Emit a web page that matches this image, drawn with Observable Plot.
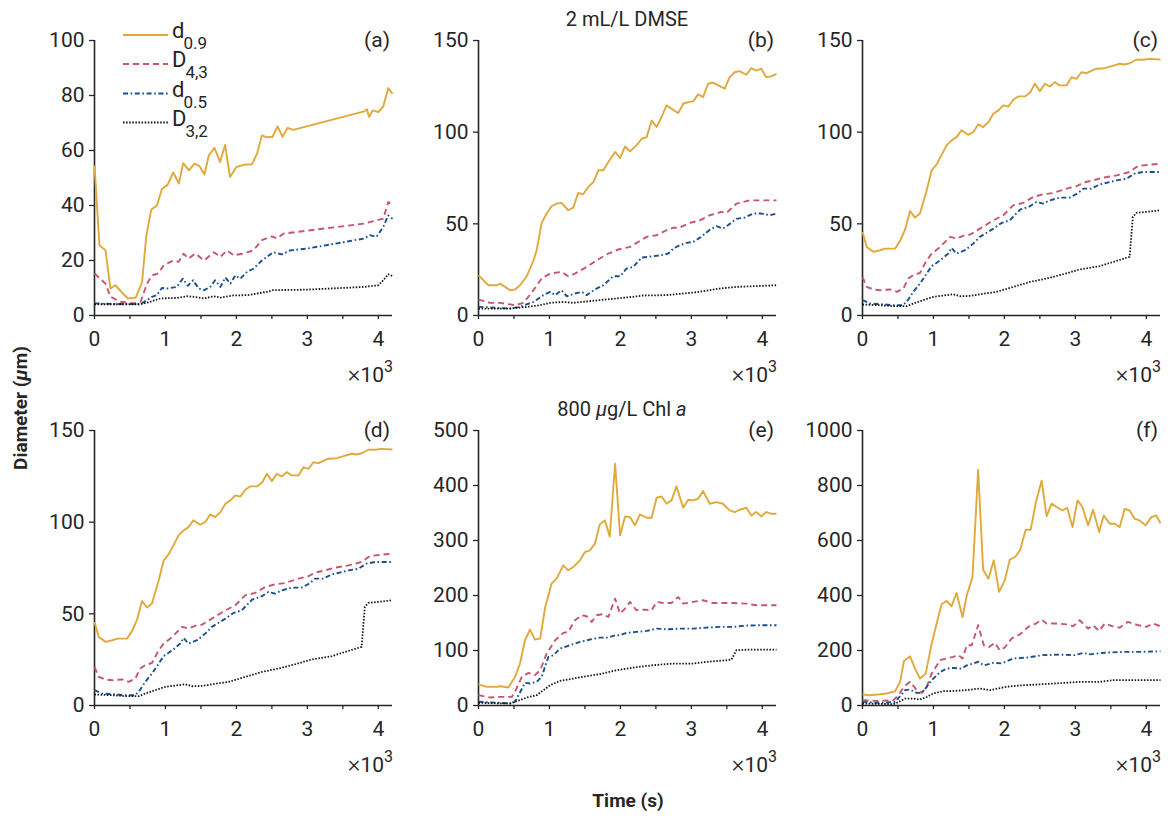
<!DOCTYPE html>
<html><head><meta charset="utf-8">
<script src="https://cdn.jsdelivr.net/npm/d3@7"></script>
<script src="https://cdn.jsdelivr.net/npm/@observablehq/plot@0.6"></script>
<style>
html,body{margin:0;padding:0;background:#fff;overflow:hidden}
#root{position:relative;width:1168px;height:820px;font-family:Roboto,sans-serif}
#overlay{position:absolute;left:0;top:0;pointer-events:none}
</style></head><body><div id="root"></div>
<script>
// ---------- data: [time (s), diameter (µm)] ----------
const a_d09 = [[0,54.6],[70,25.5],[155,23.7],[225,9.8],[295,11],[400,8],[470,6.2],[580,6.5],[670,12],[730,29],[800,38.5],[880,40],[950,46],[1030,47.5],[1110,52],[1190,48],[1250,55.4],[1330,52.8],[1410,55.2],[1480,54.3],[1550,51.3],[1610,58.2],[1690,61],[1770,55.8],[1840,62],[1910,50.4],[2000,54],[2100,54.8],[2220,55],[2290,58.8],[2360,65.5],[2430,64.8],[2510,65],[2580,68.8],[2650,65],[2720,68.2],[2800,67.5],[3800,74.2],[3840,75],[3870,72.2],[3920,74.6],[4000,74],[4070,76],[4140,82.7],[4200,80.6]];
const a_D43 = [[0,15.3],[155,11.6],[225,6.8],[370,5],[550,4.4],[650,5],[740,11.6],[810,14.6],[900,15.3],[975,18.3],[1115,20],[1185,19.5],[1255,22.5],[1325,20.7],[1420,22.5],[1545,20],[1680,23],[1775,21.3],[1865,23.7],[1960,21.9],[2100,22.5],[2240,23.7],[2360,27.4],[2500,28.8],[2570,28],[2665,29.8],[3800,33.4],[3975,34.6],[4070,35.2],[4140,41.3],[4200,40]];
const a_d05 = [[0,4.4],[300,4.2],[645,4.1],[740,5.6],[810,6.8],[880,7.4],[950,10],[1020,9.8],[1160,10.4],[1245,13.4],[1315,10.8],[1390,12.8],[1470,9.8],[1545,9.2],[1630,10.4],[1700,12.8],[1775,10.4],[1845,13.8],[1915,11.6],[1985,14.6],[2055,13.4],[2150,15.9],[2240,17],[2360,20],[2430,21.3],[2520,23],[2640,22.2],[2760,23.7],[2990,24.3],[3800,28],[3880,29.2],[3975,28.6],[4070,32.2],[4140,36.4],[4200,35.2]];
const a_D32 = [[0,4.1],[645,4.1],[790,5],[930,6.2],[1160,6.4],[1305,7],[1400,6.8],[1540,6.2],[1680,7],[1775,6.5],[1960,7.3],[2150,7.4],[2430,8.6],[2520,9.2],[2990,9.4],[3800,10.4],[4000,11],[4070,12.8],[4140,15],[4200,14.3]];

const b_d09 = [[0,22],[140,16.5],[260,16.5],[305,17.4],[445,13.8],[515,14.2],[585,16.5],[680,21.4],[775,30],[820,35.6],[890,50.5],[960,55.6],[1030,59.6],[1100,61],[1170,61.4],[1265,57.4],[1335,58.8],[1405,66.8],[1475,66.1],[1545,70],[1620,72.8],[1690,79.2],[1760,79.2],[1830,83.7],[1925,89.2],[1995,85.9],[2065,92.2],[2135,89.5],[2225,92.8],[2300,96.4],[2370,97.3],[2440,106.4],[2510,102.8],[2580,108.2],[2650,114.6],[2720,112.8],[2815,110.4],[2885,115.5],[2955,116.4],[3025,116.8],[3095,120.6],[3165,119.1],[3235,126.4],[3305,127],[3470,123.7],[3540,130],[3610,132.7],[3680,133.3],[3775,131.3],[3845,134.9],[3915,133.6],[3985,134.6],[4055,130],[4125,130.4],[4200,131.8]];
const b_D43 = [[0,8.7],[165,6.9],[305,6.9],[515,5.6],[635,6.9],[775,13.8],[890,20.2],[1010,22.9],[1170,23.8],[1265,21.4],[1360,22.9],[1525,26.5],[1665,30.1],[1830,33.8],[1970,36],[2135,37.4],[2370,42.9],[2510,43.8],[2650,46.5],[2745,47.9],[2835,47.9],[2980,50.5],[3120,51.9],[3260,54.7],[3425,56.5],[3495,55.9],[3635,61],[3820,62.8],[3960,62.8],[4200,62.8]];
const b_d05 = [[0,4.7],[165,4.4],[445,3.8],[585,4.7],[775,7.4],[915,11.1],[1010,12.9],[1080,11.1],[1170,13.8],[1245,10.5],[1360,12],[1455,12.9],[1525,11.1],[1640,14.2],[1760,16.5],[1900,21.4],[1995,21.4],[2085,25.6],[2180,26.5],[2300,31.6],[2460,32.3],[2580,32.9],[2675,33.8],[2745,36.5],[2835,38.3],[2930,39.6],[3025,40.1],[3140,42.9],[3260,46.8],[3355,48.7],[3445,47.4],[3515,49.2],[3635,52.7],[3750,53.4],[3870,55.6],[3985,55.6],[4105,54.7],[4200,55.6]];
const b_D32 = [[0,3.8],[445,3.8],[680,4.7],[870,5.6],[1010,6.9],[1195,7.4],[1335,6.9],[1710,8.4],[2180,10.2],[2320,10.9],[2650,11.1],[3120,12.9],[3400,14.7],[3635,15.6],[4200,16.5]];

const c_d09 = [[0,45.6],[60,37.4],[155,34.7],[250,35.6],[320,36.5],[390,36.5],[460,36.5],[530,40.7],[600,46.8],[670,57],[740,53.4],[810,55.6],[905,68.3],[975,79.2],[1045,82.4],[1185,92.8],[1255,95.5],[1325,97.3],[1395,101],[1490,98.6],[1560,100],[1630,104.2],[1700,102.8],[1775,105.5],[1845,110],[1915,111.9],[1985,114.6],[2055,114],[2125,117.7],[2195,119.5],[2290,119.5],[2365,121.8],[2430,126.4],[2500,122.4],[2570,126.4],[2640,124.9],[2710,127.3],[2780,125.5],[2875,125.5],[2945,130],[3015,129.1],[3085,132.7],[3155,132.2],[3295,134.6],[3415,134.9],[3510,136],[3625,137.3],[3695,136.9],[3765,137.6],[3860,139.5],[3955,139.5],[4045,140],[4200,139.6]];
const c_D43 = [[0,21],[60,15.6],[155,14.2],[250,13.8],[390,14.2],[485,12.9],[575,14.7],[645,20.2],[715,22],[810,23.2],[905,30.1],[975,33.8],[1095,37.4],[1235,42.9],[1325,42],[1445,43.8],[1515,44.1],[1655,47.4],[1845,51.9],[1985,54.7],[2125,60.1],[2265,61.4],[2405,64.6],[2545,66.1],[2685,66.8],[2875,69.2],[3015,70.5],[3110,72.5],[3250,73.7],[3390,75.2],[3580,76.4],[3765,78.3],[3860,81],[3955,81.9],[4200,82.8]];
const c_d05 = [[0,8.4],[110,6.5],[250,6.2],[435,5.6],[575,5.6],[645,8.7],[715,12.9],[810,17.4],[905,22.9],[975,26.9],[1095,30.1],[1210,33.8],[1255,36.9],[1325,33.8],[1445,35.6],[1560,39.2],[1655,42.9],[1845,47.4],[1960,50.5],[2075,51.9],[2220,57.7],[2360,59.6],[2450,61.9],[2545,61],[2640,62.8],[2780,64.3],[2920,64.3],[3040,66.8],[3110,69.2],[3225,69.2],[3345,71.5],[3485,72.8],[3580,73.7],[3720,74.6],[3835,77.4],[3955,78.3],[4200,78.3]];
const c_D32 = [[0,6],[250,5.6],[435,5.1],[625,5.1],[715,6.5],[860,8.4],[1000,10.2],[1185,11.1],[1280,11.6],[1375,10.5],[1515,10.7],[1655,11.6],[1890,12.9],[2125,15.6],[2360,18.3],[2595,20.2],[2830,22.5],[3060,25.1],[3345,26.9],[3530,29.2],[3765,32],[3810,53.8],[3860,56],[4000,56.5],[4200,57.4]];

// panel (d) repeats the curves of panel (c)
const d_d09 = c_d09, d_D43 = c_D43, d_d05 = c_d05, d_D32 = c_D32;

const e_d09 = [[0,38.7],[115,33.9],[260,33.9],[305,35.1],[420,32.7],[515,52],[585,76.3],[655,118.6],[725,138],[795,119.9],[870,121.7],[940,179.2],[1030,221.5],[1100,230.6],[1195,254.8],[1265,245.8],[1335,251.8],[1430,263.9],[1500,279],[1570,282],[1640,294.2],[1710,329.3],[1780,336.6],[1850,307.5],[1925,439.5],[1995,309.3],[2065,343.8],[2135,342.6],[2205,327.5],[2275,347.5],[2370,341.4],[2440,341.4],[2510,377.7],[2580,380.1],[2650,366.8],[2720,372.9],[2790,398.3],[2885,359.6],[2955,374.1],[3025,372.9],[3095,375.9],[3165,389.8],[3260,366.8],[3355,369.9],[3445,366.8],[3540,354.7],[3610,351.7],[3680,355.9],[3775,359.6],[3845,345.6],[3915,351.7],[3985,343.8],[4055,351.7],[4125,348.7],[4200,348.7]];
const e_D43 = [[0,18.8],[165,14.5],[305,15.7],[470,15.7],[515,24.8],[610,52],[705,59.3],[795,55.1],[870,64.2],[960,94.4],[1080,118.6],[1195,132],[1265,133.8],[1360,155],[1455,164],[1525,162.2],[1595,151.9],[1665,164],[1735,165.9],[1830,161],[1925,194.3],[1995,167],[2065,176.1],[2135,188.3],[2225,173.1],[2345,174.3],[2440,173.1],[2510,188.3],[2605,186.4],[2720,186.4],[2815,197.3],[2885,185.2],[3025,188.3],[3165,191.3],[3305,186.4],[3445,186.4],[3585,186.4],[3775,185.2],[3915,182.2],[4200,182.2]];
const e_d05 = [[0,6.7],[305,4.8],[490,3.6],[540,12.7],[655,41.2],[725,40],[820,43],[890,52],[985,88.4],[1055,91.4],[1150,103.5],[1290,109.6],[1430,115.6],[1570,119.9],[1710,123.5],[1830,123.5],[1925,127.7],[1995,127.7],[2085,132],[2225,133.8],[2370,135.6],[2510,139.8],[2650,138.6],[2835,139.8],[3025,139.8],[3210,141.6],[3400,142.9],[3585,142.9],[3775,145.3],[3960,145.9],[4200,145.9]];
const e_D32 = [[0,4.8],[445,3.6],[540,7.9],[680,14.5],[820,18.8],[915,27.8],[1010,36.9],[1150,44.8],[1335,49],[1525,53.3],[1710,56.9],[1900,63],[2180,69],[2460,73.2],[2745,76.3],[3025,76.3],[3210,79.3],[3495,82.3],[3565,83.5],[3635,100.5],[3820,101.7],[4200,101.7]];

const f_d09 = [[0,41],[85,37.5],[250,41],[340,43.6],[460,52],[530,86],[585,162],[670,179],[740,134],[810,98],[890,116],[975,225],[1045,298],[1115,368],[1185,380],[1255,361],[1325,409],[1410,322],[1470,401],[1550,467],[1630,857],[1700,494],[1775,461],[1850,528],[1925,413],[2005,455],[2075,530],[2150,540],[2220,564],[2300,639],[2370,639],[2445,740],[2525,818],[2595,688],[2665,734],[2735,722],[2820,709],[2885,719],[2960,649],[3030,746],[3100,722],[3180,655],[3250,712],[3335,631],[3400,691],[3485,661],[3555,661],[3625,649],[3695,715],[3765,709],[3835,679],[3905,673],[3990,655],[4070,685],[4140,691],[4200,663]];
const f_D43 = [[0,19],[200,17],[435,19],[505,37.5],[585,68],[670,86],[765,56],[835,46],[905,68],[975,116],[1095,165],[1185,171],[1280,177],[1350,183],[1410,171],[1470,219],[1540,219],[1630,292],[1710,219],[1785,213],[1865,228],[1935,201],[2005,211],[2100,243],[2220,259],[2335,286],[2445,298],[2525,312],[2595,298],[2735,298],[2875,295],[2970,288],[3060,310],[3180,280],[3250,292],[3335,271],[3415,298],[3530,288],[3625,283],[3740,304],[3885,292],[4000,286],[4095,298],[4200,288]];
const f_d05 = [[0,13],[250,10],[460,13],[530,34],[600,56],[670,58],[765,46],[835,46],[905,68],[975,92],[1095,122],[1185,134],[1280,137],[1395,134],[1470,146],[1560,153],[1630,159],[1710,146],[1845,155],[1960,153],[2125,171],[2310,174],[2545,183],[2780,185],[2990,183],[3110,191],[3205,186],[3415,192],[3670,195],[3905,195],[4200,197]];
const f_D32 = [[0,7],[435,5],[485,10],[600,25],[715,25],[810,22],[905,31],[1000,44],[1140,52],[1280,53],[1470,56],[1655,62],[1795,56],[2030,68],[2220,73],[2500,77],[2830,82],[3060,86],[3345,86],[3530,92],[4200,92]];

// ---------- labels / ticks ----------
const panelLetters = ["(a)","(b)","(c)","(d)","(e)","(f)"];
const yMax = [100,150,150,150,500,1000];
const yTicks = [[0,20,40,60,80,100],[0,50,100,150],[0,50,100,150],[0,50,100,150],[0,100,200,300,400,500],[0,200,400,600,800,1000]];
const xTicks = [0,500,1000,1500,2000,2500,3000,3500,4000];
const seriesNames = ["d_0.9","D_4,3","d_0.5","D_3,2"];
const panelSeries = [
  [a_d09,a_D43,a_d05,a_D32],
  [b_d09,b_D43,b_d05,b_D32],
  [c_d09,c_D43,c_d05,c_D32],
  [d_d09,d_D43,d_d05,d_D32],
  [e_d09,e_D43,e_d05,e_D32],
  [f_d09,f_D43,f_d05,f_D32]
];
const rowTitles = ["2 mL/L DMSE","800 µg/L Chl a"];

// ---------- styles ----------
const styles = [
  {stroke:"#E0A93B", strokeWidth:1.9, dash:null},
  {stroke:"#C5566F", strokeWidth:1.9, dash:"6,4"},
  {stroke:"#1B4F8E", strokeWidth:1.9, dash:"5,2.6,1.6,2.6"},
  {stroke:"#111111", strokeWidth:1.8, dash:"1.5,1.6"}
];
const ink = "#262626";
const frameX = [94,478,862], frameY = [40,430], FW = 298, FH = 275;
const mL = 64, mR = 8, mT = 24, mB = 66;

const root = document.getElementById("root");

panelSeries.forEach((series, i) => {
  const col = i % 3, row = Math.floor(i / 3);
  const marks = [
    Plot.axisX({ticks: xTicks, tickFormat: d => d % 1000 === 0 ? String(d / 1000) : "", tickSize: 4, tickPadding: 12, label: null, strokeWidth: 1.3}),
    Plot.axisY({ticks: yTicks[i], tickFormat: d => String(d), tickSize: 5, tickPadding: 5, label: null, strokeWidth: 1.3}),
    Plot.ruleX([0], {stroke: ink, strokeWidth: 1.6}),
    Plot.ruleY([0], {stroke: ink, strokeWidth: 1.6})
  ];
  series.forEach((s, k) => {
    const st = styles[k];
    const o = {x: d => d[0], y: d => d[1], stroke: st.stroke, strokeWidth: st.strokeWidth, strokeLinejoin: "round", strokeLinecap: "butt"};
    if (st.dash) o.strokeDasharray = st.dash;
    marks.push(Plot.line(s, o));
  });
  const svg = Plot.plot({
    width: mL + FW + mR, height: mT + FH + mB,
    marginLeft: mL, marginRight: mR, marginTop: mT, marginBottom: mB,
    style: {fontFamily: "Roboto, sans-serif", fontSize: "21px", color: ink, background: "transparent", overflow: "visible"},
    x: {domain: [0, 4200], label: null},
    y: {domain: [0, yMax[i]], label: null},
    marks
  });
  svg.style.position = "absolute";
  svg.style.left = (frameX[col] - mL) + "px";
  svg.style.top = (frameY[row] - mT) + "px";
  svg.style.maxWidth = "none";
  root.appendChild(svg);
});

// ---------- overlay text ----------
const NS = "http://www.w3.org/2000/svg";
const ov = document.createElementNS(NS, "svg");
ov.setAttribute("id", "overlay");
ov.setAttribute("width", 1168); ov.setAttribute("height", 820);
ov.style.fontFamily = "Roboto, sans-serif";
ov.style.fill = ink;
root.appendChild(ov);
function txt(x, y, s, opts = {}) {
  const t = document.createElementNS(NS, "text");
  t.setAttribute("x", x); t.setAttribute("y", y);
  t.setAttribute("font-size", opts.size || 21);
  if (opts.anchor) t.setAttribute("text-anchor", opts.anchor);
  if (opts.weight) t.setAttribute("font-weight", opts.weight);
  if (opts.transform) t.setAttribute("transform", opts.transform);
  if (s != null) t.textContent = s;
  ov.appendChild(t);
  return t;
}
function tspan(parent, s, attrs = {}) {
  const t = document.createElementNS(NS, "tspan");
  for (const k in attrs) t.setAttribute(k, attrs[k]);
  t.textContent = s;
  parent.appendChild(t);
  return t;
}

panelLetters.forEach((L, i) => {
  const col = i % 3, row = Math.floor(i / 3);
  const right = frameX[col] + FW, top = frameY[row], bottom = top + FH;
  txt(right - 2, top + 7, L, {anchor: "end"});
  const e = txt(right + 1, bottom + 67, null, {anchor: "end", size: 21});
  tspan(e, "×", {"font-size": 24, "font-weight": 300});
  tspan(e, "10");
  tspan(e, "3", {dy: -10, "font-size": 16});
});

// row titles
txt(627, 26, rowTitles[0], {anchor: "middle", size: 20});
{
  const t = txt(622, 416, null, {anchor: "middle", size: 20});
  tspan(t, "800 ");
  tspan(t, "µ", {"font-style": "italic"});
  tspan(t, "g/L Chl ");
  tspan(t, "a", {"font-style": "italic"});
}
// axis titles
{
  const t = txt(27, 408, null, {anchor: "middle", size: 19, weight: "bold", transform: "rotate(-90 27 408)"});
  tspan(t, "Diameter (");
  tspan(t, "µ", {"font-style": "italic"});
  tspan(t, "m)");
}
txt(628, 807, "Time (s)", {anchor: "middle", size: 19, weight: "bold"});

// legend (inside panel a)
const legY = [35, 64, 93.5, 122.5];
seriesNames.forEach((n, k) => {
  const st = styles[k];
  const ln = document.createElementNS(NS, "line");
  ln.setAttribute("x1", 123); ln.setAttribute("x2", 168);
  ln.setAttribute("y1", legY[k]); ln.setAttribute("y2", legY[k]);
  ln.setAttribute("stroke", st.stroke); ln.setAttribute("stroke-width", st.strokeWidth);
  if (st.dash) ln.setAttribute("stroke-dasharray", st.dash);
  ov.appendChild(ln);
  const [main, sub] = n.split("_");
  const t = txt(172, legY[k] + 3, null, {size: 22});
  tspan(t, main);
  tspan(t, sub, {dy: 11, dx: -1, "font-size": 17});
});
</script></body></html>
